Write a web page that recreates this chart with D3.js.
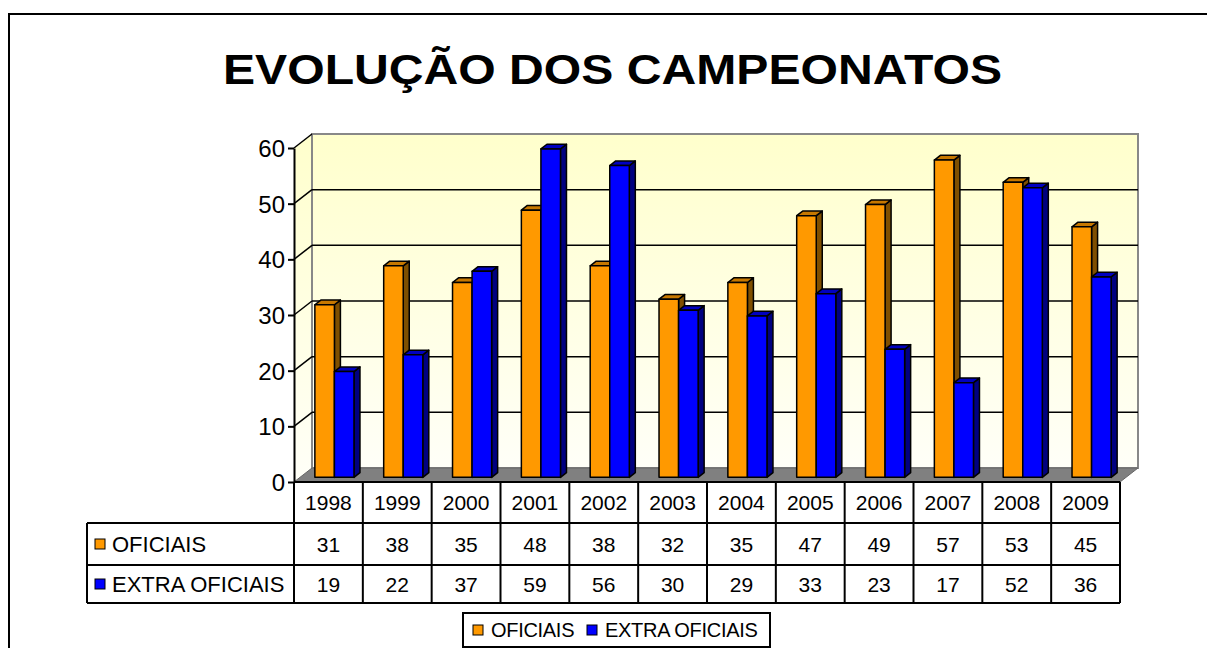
<!DOCTYPE html>
<html>
<head>
<meta charset="utf-8">
<script src="https://cdn.jsdelivr.net/npm/d3@7"></script>
<style>
  body { margin: 0; background: #fff; }
  text { font-family: Arial, "Liberation Sans", sans-serif; }
</style>
</head>
<body>
<div id="chart"></div>
<script>

var years = ['1998','1999','2000','2001','2002','2003','2004','2005','2006','2007','2008','2009'];
var oficiais = [31, 38, 35, 48, 38, 32, 35, 47, 49, 57, 53, 45];
var extraOficiais = [19, 22, 37, 59, 56, 30, 29, 33, 23, 17, 52, 36];
var seriesNames = ['OFICIAIS', 'EXTRA OFICIAIS'];
var yTicks = [0, 10, 20, 30, 40, 50, 60];

var colors = {
  'OFICIAIS': { front: '#FF9900', top: '#C77800', side: '#7F4F00' },
  'EXTRA OFICIAIS': { front: '#0000FF', top: '#0000C0', side: '#000080' }
};

var width = 1207, height = 648,
    depthX = 18, depthY = -14;   // 3d offset of the back wall

var svg = d3.select('#chart').append('svg')
    .attr('width', width)
    .attr('height', height);

var defs = svg.append('defs');
var grad = defs.append('linearGradient')
    .attr('id', 'wall').attr('x1', 0).attr('y1', 0).attr('x2', 0).attr('y2', 1);
grad.append('stop').attr('offset', '0%').attr('stop-color', '#FFFFCC');
grad.append('stop').attr('offset', '100%').attr('stop-color', '#FFFFF8');

// outer frame
svg.append('rect')
    .attr('x', 9).attr('y', 14)
    .attr('width', 1260).attr('height', 700)
    .attr('fill', 'none').attr('stroke', '#000').attr('stroke-width', 2);

svg.append('text')
    .attr('x', 223).attr('y', 84)
    .attr('font-size', 43).attr('font-weight', 'bold')
    .attr('textLength', 779).attr('lengthAdjust', 'spacingAndGlyphs')
    .text('EVOLUÇÃO DOS CAMPEONATOS');

var x = d3.scaleBand()
    .domain(years)
    .range([294, 1120]);

var xs = d3.scaleBand()
    .domain(seriesNames)
    .range([0, x.bandwidth()])
    .paddingInner(0)
    .paddingOuter(0.76);

var y = d3.scaleLinear()
    .domain([0, 60])
    .range([482, 148]);

var pt = (px, py, t) => [px + depthX * t, py + depthY * t];
var poly = pts => 'M' + pts.map(p => p.join(',')).join('L') + 'Z';

var x0 = x.range()[0], x1 = x.range()[1],
    yb = y(0), yt = y(60);

// side wall
svg.append('path')
    .attr('d', poly([[x0, yb], [x0, yt], pt(x0, yt, 1), pt(x0, yb, 1)]))
    .attr('fill', 'url(#wall)').attr('stroke', 'none');

// back wall
svg.append('path')
    .attr('d', poly([pt(x0, yt, 1), pt(x1, yt, 1), pt(x1, yb, 1), pt(x0, yb, 1)]))
    .attr('fill', 'url(#wall)').attr('stroke', '#888').attr('stroke-width', 2);

// grid lines
var grid = svg.append('g').attr('class', 'grid');
grid.selectAll('path.back')
    .data(yTicks.filter(d => d > 0 && d < 60)).enter()
  .append('path')
    .attr('d', d => 'M' + pt(x0, y(d), 1) + 'L' + pt(x1, y(d), 1))
    .attr('stroke', '#000').attr('stroke-width', 1.5);
grid.selectAll('path.side')
    .data(yTicks.filter(d => d > 0)).enter()
  .append('path')
    .attr('d', d => 'M' + [x0, y(d)] + 'L' + pt(x0, y(d), 1))
    .attr('stroke', '#000').attr('stroke-width', 1.5);

// floor
svg.append('path')
    .attr('d', poly([[x0, yb], [x1, yb], pt(x1, yb, 1), pt(x0, yb, 1)]))
    .attr('fill', '#808080').attr('stroke', '#666').attr('stroke-width', 1);

// bars
var rows = [];
years.forEach(function (yr, i) {
  rows.push({ year: yr, s: 'OFICIAIS', v: oficiais[i] });
  rows.push({ year: yr, s: 'EXTRA OFICIAIS', v: extraOficiais[i] });
});

var bars = svg.append('g').attr('class', 'bars')
    .selectAll('g').data(rows).enter()
  .append('g')
    .attr('stroke', '#000').attr('stroke-width', 1.5).attr('stroke-linejoin', 'round');

function face(d) {
  var bl = x(d.year) + xs(d.s), br = bl + xs.bandwidth();
  return { bl: bl, br: br, top: y(d.v), bot: y(0) };
}

bars.append('path')
    .attr('fill', d => colors[d.s].side)
    .attr('d', function (d) {
      var f = face(d);
      return poly([pt(f.br, f.top, 1/3), pt(f.br, f.top, 2/3), pt(f.br, f.bot, 2/3), pt(f.br, f.bot, 1/3)]);
    });
bars.append('path')
    .attr('fill', d => colors[d.s].top)
    .attr('d', function (d) {
      var f = face(d);
      return poly([pt(f.bl, f.top, 1/3), pt(f.bl, f.top, 2/3), pt(f.br, f.top, 2/3), pt(f.br, f.top, 1/3)]);
    });
bars.append('path')
    .attr('fill', d => colors[d.s].front)
    .attr('d', function (d) {
      var f = face(d);
      return poly([pt(f.bl, f.top, 1/3), pt(f.br, f.top, 1/3), pt(f.br, f.bot, 1/3), pt(f.bl, f.bot, 1/3)]);
    });

// y axis
var yAxis = svg.append('g')
    .attr('transform', `translate(${x0},0)`)
    .call(d3.axisLeft(y).tickValues(yTicks).tickSize(6).tickSizeOuter(0).tickPadding(3));
yAxis.select('.domain').attr('stroke', '#000').attr('stroke-width', 2);
yAxis.selectAll('.tick line').attr('stroke', '#000').attr('stroke-width', 2);
yAxis.selectAll('.tick text')
    .attr('font-size', 24).attr('font-family', 'Arial, "Liberation Sans", sans-serif')
    .attr('fill', '#000').attr('dy', '0.36em');

// data table
var tableLeft = 87, rowY = [482, 523, 565, 603];
var table = svg.append('g').attr('class', 'table')
    .attr('stroke', '#000').attr('stroke-width', 2);

table.append('line').attr('x1', x0).attr('x2', x1).attr('y1', rowY[0]).attr('y2', rowY[0]);
table.append('line').attr('x1', tableLeft).attr('x2', x1).attr('y1', rowY[1]).attr('y2', rowY[1]);
table.append('line').attr('x1', tableLeft).attr('x2', x1).attr('y1', rowY[2]).attr('y2', rowY[2]);
table.append('line').attr('x1', tableLeft).attr('x2', x1).attr('y1', rowY[3]).attr('y2', rowY[3]);
table.append('line').attr('x1', tableLeft).attr('x2', tableLeft).attr('y1', rowY[1]).attr('y2', rowY[3]);
table.selectAll('line.col')
    .data(years.concat(['end'])).enter()
  .append('line')
    .attr('x1', (d, i) => i < years.length ? x(d) : x1)
    .attr('x2', (d, i) => i < years.length ? x(d) : x1)
    .attr('y1', rowY[0]).attr('y2', rowY[3]);

var cellText = svg.append('g').attr('font-size', 21).attr('text-anchor', 'middle');
cellText.selectAll('text.yr')
    .data(years).enter()
  .append('text')
    .attr('x', d => x(d) + x.bandwidth() / 2)
    .attr('y', (rowY[0] + rowY[1]) / 2).attr('dy', '0.36em')
    .text(d => d);

[oficiais, extraOficiais].forEach(function (vals, r) {
  cellText.selectAll('text.v' + r)
      .data(vals).enter()
    .append('text')
      .attr('x', (d, i) => x(years[i]) + x.bandwidth() / 2)
      .attr('y', (rowY[r + 1] + rowY[r + 2]) / 2).attr('dy', '0.36em')
      .text(d => d);
});

seriesNames.forEach(function (s, r) {
  var cy = (rowY[r + 1] + rowY[r + 2]) / 2;
  svg.append('rect')
      .attr('x', 95).attr('y', cy - 5).attr('width', 10).attr('height', 10)
      .attr('fill', colors[s].front).attr('stroke', '#000').attr('stroke-width', 1);
  svg.append('text')
      .attr('x', 112).attr('y', cy).attr('dy', '0.36em')
      .attr('font-size', 22)
      .text(s);
});

// legend
var legend = svg.append('g').attr('transform', 'translate(463,613)');
legend.append('rect')
    .attr('width', 307).attr('height', 34)
    .attr('fill', '#fff').attr('stroke', '#000').attr('stroke-width', 2);
var legX = [10, 124];
seriesNames.forEach(function (s, i) {
  legend.append('rect')
      .attr('x', legX[i]).attr('y', 12).attr('width', 10).attr('height', 10)
      .attr('fill', colors[s].front).attr('stroke', '#000').attr('stroke-width', 1);
  legend.append('text')
      .attr('x', legX[i] + 18).attr('y', 17).attr('dy', '0.36em')
      .attr('font-size', 20).attr('letter-spacing', -0.3)
      .text(s);
});

</script>
</body>
</html>
